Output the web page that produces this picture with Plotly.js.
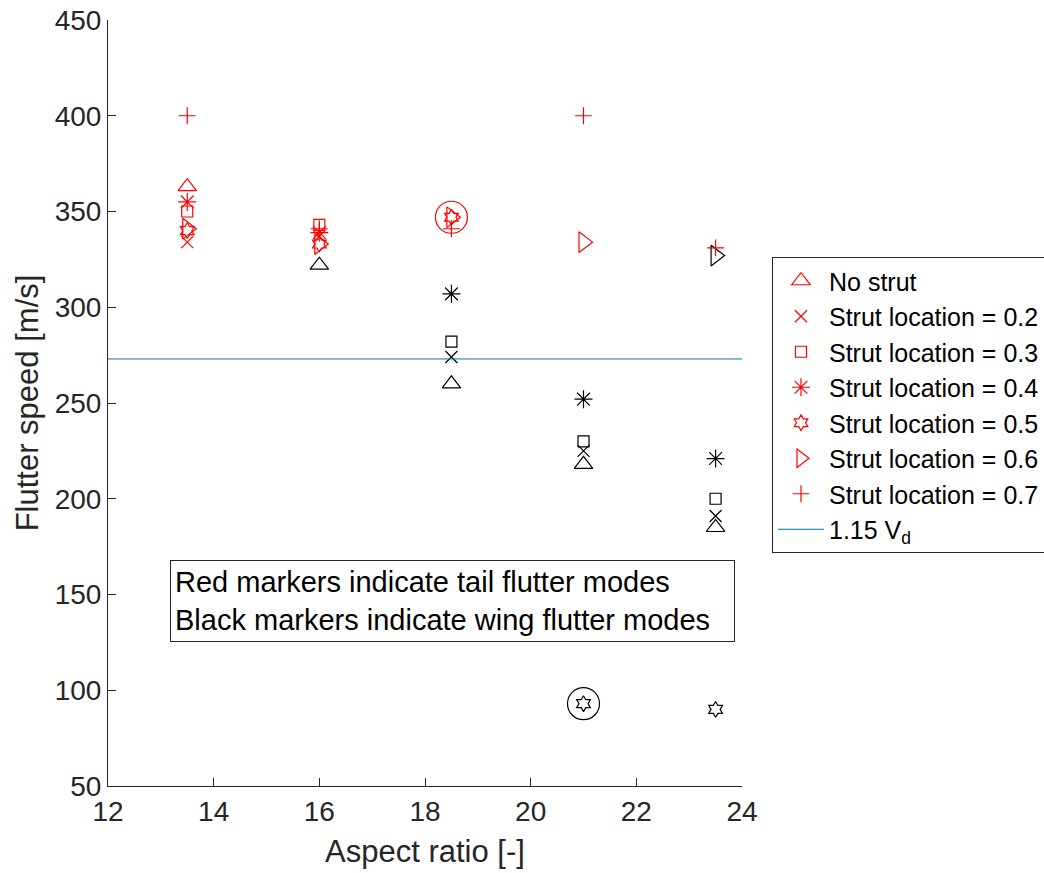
<!DOCTYPE html>
<html>
<head>
<meta charset="utf-8">
<script src="https://cdn.plot.ly/plotly-3.0.1.min.js"></script>
<style>html,body{margin:0;padding:0;background:#fff;}#chart{width:1044px;height:873px;}</style>
</head>
<body>
<div id="chart"></div>
<script>
// Aspect ratios
const aspectRatio = [13.5, 16, 18.5, 21, 23.5];

// Flutter speeds [m/s] per configuration
const noStrut  = [363, 322, 260, 218, 185];
const strut02  = [334, 337, 274, 225, 191];
const strut03  = [350, 343, 282, 230, 200];
const strut04  = [355, 339, 307, 252, 221];
const strut05  = [340, 333, 347, 93, 90];
const strut06  = [341, 333, 347, 334, 327];
const strut07  = [400, 341, 341, 400, 331];

// Mode type per point: "T" = tail flutter (red), "W" = wing flutter (black)
const modeNoStrut = ["T", "W", "W", "W", "W"];
const mode02      = ["T", "T", "W", "W", "W"];
const mode03      = ["T", "T", "W", "W", "W"];
const mode04      = ["T", "T", "W", "W", "W"];
const mode05      = ["T", "T", "T", "W", "W"];
const mode06      = ["T", "T", "T", "T", "W"];
const mode07      = ["T", "T", "T", "T", "T"];

// Design speed line
const vdLineX = [12, 24];
const vdLineY = [273, 273];

// Highlighted points (circled)
const highlightX = [18.5, 21];
const highlightY = [347, 93];
const highlightMode = ["T", "W"];

const names = ["No strut", "Strut location = 0.2", "Strut location = 0.3", "Strut location = 0.4",
               "Strut location = 0.5", "Strut location = 0.6", "Strut location = 0.7"];

const RED = "#ff0000", BLACK = "#000000";
const col = m => m.map(v => v === "T" ? RED : BLACK);

const series = [
  {y: noStrut, m: modeNoStrut, sym: "triangle-up-open", size: 16},
  {y: strut02, m: mode02, sym: "x-thin-open", size: 12},
  {y: strut03, m: mode03, sym: "square-open", size: 11},
  {y: strut04, m: mode04, sym: "asterisk-open", size: 15},
  {y: strut05, m: mode05, sym: "hexagram-open", size: 12},
  {y: strut06, m: mode06, sym: "triangle-right-open", size: 18},
  {y: strut07, m: mode07, sym: "cross-thin-open", size: 12}
];

const FONT = "Liberation Sans, Arial, sans-serif";

const traces = series.map((s, i) => ({
  x: aspectRatio, y: s.y, type: "scatter", mode: "markers", name: names[i],
  marker: {symbol: s.sym, size: s.size, color: col(s.m), line: {color: col(s.m), width: 1.2}}
}));

traces.push({
  x: vdLineX, y: vdLineY, type: "scatter", mode: "lines", name: "1.15 V<sub>d</sub>",
  line: {color: "#0072BD", width: 1}
});

traces.push({
  x: highlightX, y: highlightY, type: "scatter", mode: "markers", showlegend: false,
  marker: {symbol: "circle-open", size: 32, color: col(highlightMode), line: {color: col(highlightMode), width: 1.2}}
});

const axisCommon = {
  showline: true, linecolor: "#262626", linewidth: 1, mirror: false,
  ticks: "inside", ticklen: 8, tickcolor: "#262626", tickwidth: 1,
  showgrid: false, zeroline: false,
  tickfont: {family: FONT, size: 28, color: "#262626"}
};

const layout = {
  width: 1044, height: 873,
  margin: {l: 108, r: 302, t: 20, b: 87, autoexpand: false},
  paper_bgcolor: "#fff", plot_bgcolor: "#fff",
  showlegend: true,
  xaxis: Object.assign({}, axisCommon, {
    range: [12, 24], tickvals: [12, 14, 16, 18, 20, 22, 24],
    title: {text: "Aspect ratio [-]", font: {family: FONT, size: 31, color: "#262626"}, standoff: 14}
  }),
  yaxis: Object.assign({}, axisCommon, {
    range: [50, 450], tickvals: [50, 100, 150, 200, 250, 300, 350, 400, 450],
    title: {text: "Flutter speed [m/s]", font: {family: FONT, size: 31, color: "#262626"}, standoff: 6}
  }),
  legend: {
    x: (772 - 108) / 634, xanchor: "left", y: (786 - 257) / 766, yanchor: "top",
    bordercolor: "#262626", borderwidth: 1, bgcolor: "#fff",
    font: {family: FONT, size: 25, color: "#000"},
    itemwidth: 46
  },
  annotations: [{
    xref: "paper", yref: "paper", x: (170 - 108) / 634, y: (786 - 560) / 766,
    xanchor: "left", yanchor: "top", showarrow: false, align: "left",
    text: "Red markers indicate tail flutter modes<br>Black markers indicate wing flutter modes",
    font: {family: FONT, size: 29, color: "#000"},
    bordercolor: "#262626", borderwidth: 1, borderpad: 4, bgcolor: "#fff",
    width: 555, height: 72
  }]
};

Plotly.newPlot("chart", traces, layout, {displayModeBar: false, staticPlot: true});
</script>
</body>
</html>
